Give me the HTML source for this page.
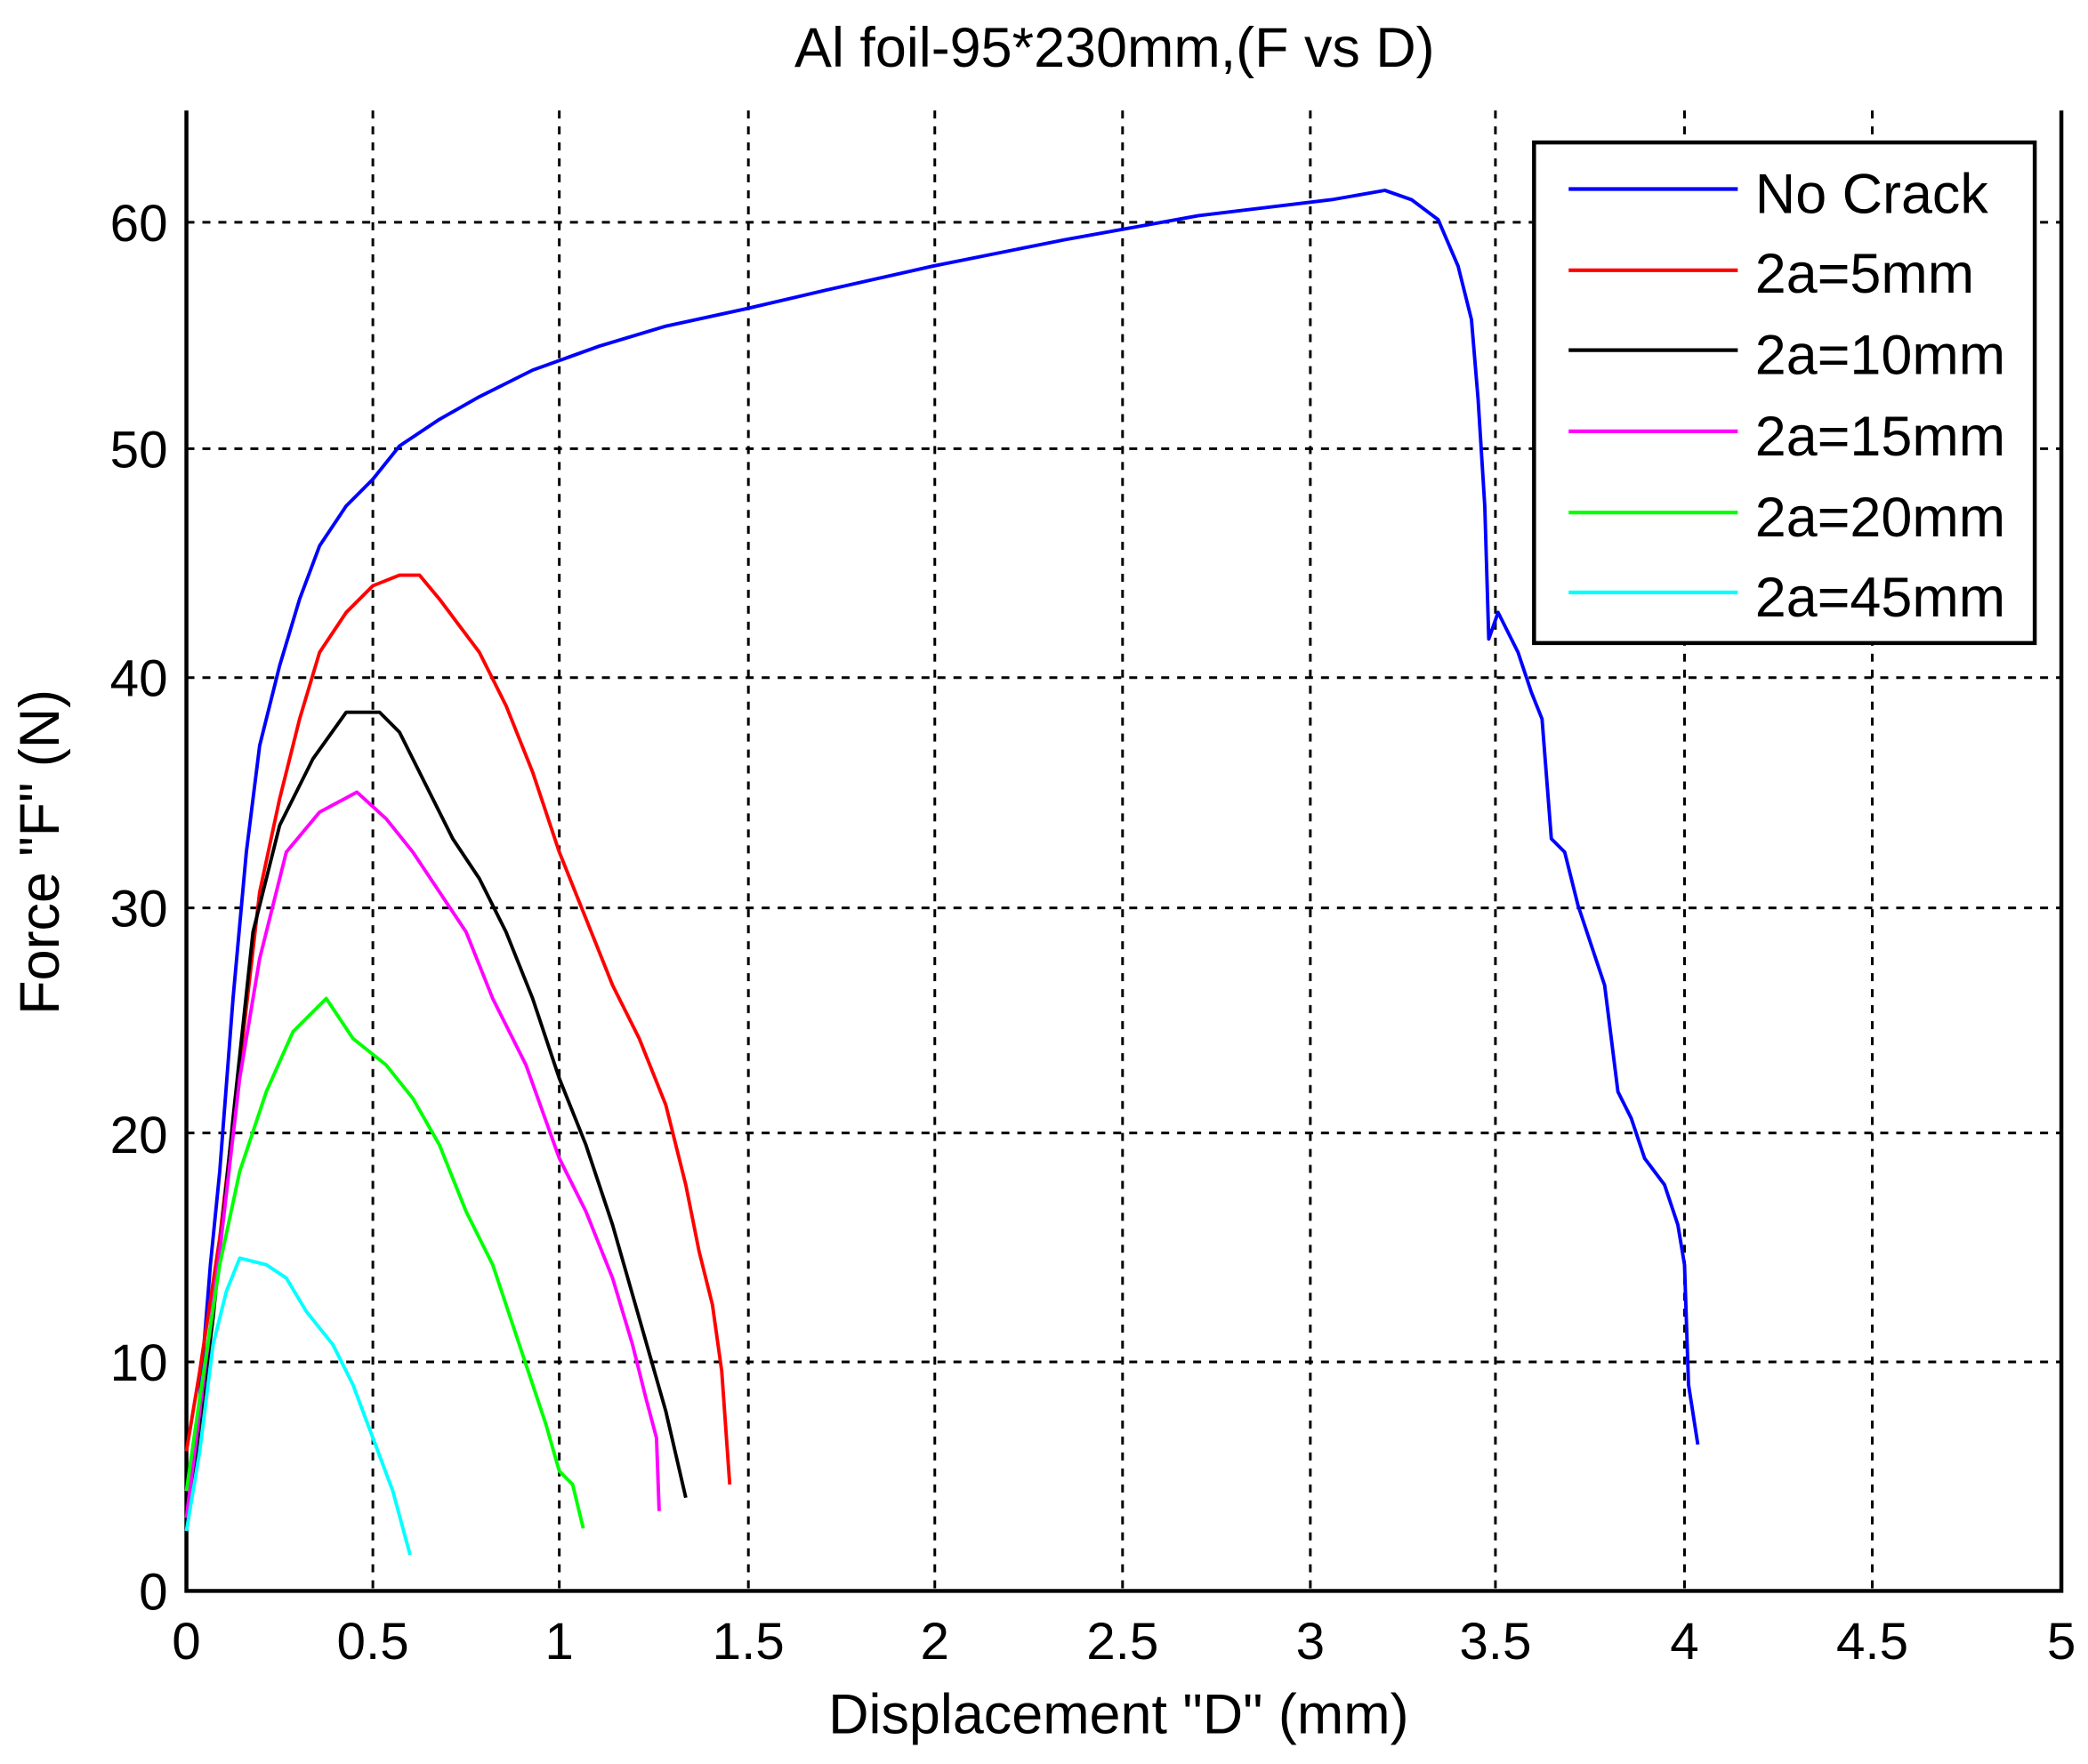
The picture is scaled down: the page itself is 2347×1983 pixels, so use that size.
<!DOCTYPE html>
<html><head><style>html,body{margin:0;padding:0;background:#fff;}svg{display:block;}</style></head>
<body>
<svg width="2347" height="1983" viewBox="0 0 1568 1325" preserveAspectRatio="none" xmlns="http://www.w3.org/2000/svg" font-family="Liberation Sans, sans-serif">
<rect width="1568" height="1325" fill="#fff"/>
<g stroke="#000" stroke-width="2" stroke-dasharray="6,6" fill="none">
<line x1="280" y1="83" x2="280" y2="1195"/><line x1="420" y1="83" x2="420" y2="1195"/>
<line x1="562" y1="83" x2="562" y2="1195"/><line x1="702" y1="83" x2="702" y2="1195"/>
<line x1="843" y1="83" x2="843" y2="1195"/><line x1="984" y1="83" x2="984" y2="1195"/>
<line x1="1123" y1="83" x2="1123" y2="1195"/><line x1="1265" y1="83" x2="1265" y2="1195"/>
<line x1="1406" y1="83" x2="1406" y2="1195"/>
<line x1="140" y1="1023" x2="1548" y2="1023"/><line x1="140" y1="851" x2="1548" y2="851"/>
<line x1="140" y1="682" x2="1548" y2="682"/><line x1="140" y1="509" x2="1548" y2="509"/>
<line x1="140" y1="337" x2="1548" y2="337"/><line x1="140" y1="167" x2="1548" y2="167"/>
</g>
<g stroke="#000" stroke-width="3" fill="none">
<polyline points="140,83 140,1195 1548,1195 1548,83"/>
</g>
<g fill="none" stroke-width="2.6" stroke-linejoin="round">
<polyline stroke="#0000ff" points="140,1150 150,1050 158,950 165,880 175,750 185,640 195,560 210,500 225,450 240,410 260,380 280,360 300,335 330,315 360,298 400,278 450,260 500,245 560,232 620,218 700,200 800,180 900,162 1000,150 1040,143 1060,150 1080,165 1095,200 1105,240 1110,300 1115,380 1118,480 1125,460 1140,490 1150,520 1158,540 1165,630 1175,640 1185,680 1195,710 1205,740 1215,820 1225,840 1235,870 1250,890 1260,920 1265,950 1268,1040 1275,1085"/>
<polyline stroke="#ff0000" points="140,1090 150,1030 165,930 180,800 195,670 210,600 225,540 240,490 260,460 280,440 300,432 315,432 330,450 345,470 360,490 380,530 400,580 420,640 440,690 460,740 480,780 500,830 515,890 525,940 535,980 542,1030 548,1115"/>
<polyline stroke="#000000" points="140,1150 150,1070 160,990 175,840 190,700 210,620 235,570 260,535 285,535 300,550 320,590 340,630 360,660 380,700 400,750 420,810 440,860 460,920 480,990 500,1060 515,1125"/>
<polyline stroke="#ff00ff" points="140,1140 150,1060 165,940 180,810 195,720 215,640 240,610 268,595 290,615 310,640 330,670 350,700 370,750 395,800 420,870 440,910 460,960 475,1010 485,1050 493,1080 495,1135"/>
<polyline stroke="#00ff00" points="140,1120 150,1050 165,950 180,880 200,820 220,775 245,750 265,780 290,800 310,825 330,860 350,910 370,950 390,1010 410,1070 420,1105 430,1115 438,1148"/>
<polyline stroke="#00ffff" points="140,1150 150,1090 160,1010 170,970 180,945 200,950 215,960 230,985 250,1010 265,1040 280,1080 295,1120 308,1168"/>
</g>
<g font-size="39" fill="#000">
<g text-anchor="middle">
<text x="140" y="1246">0</text><text x="280" y="1246">0.5</text><text x="420" y="1246">1</text>
<text x="562" y="1246">1.5</text><text x="702" y="1246">2</text><text x="843" y="1246">2.5</text>
<text x="984" y="1246">3</text><text x="1123" y="1246">3.5</text><text x="1265" y="1246">4</text>
<text x="1406" y="1246">4.5</text><text x="1548" y="1246">5</text>
</g>
<g text-anchor="end">
<text x="126" y="1209">0</text><text x="126" y="1037">10</text><text x="126" y="866">20</text>
<text x="126" y="696">30</text><text x="126" y="523">40</text><text x="126" y="351">50</text><text x="126" y="181">60</text>
</g>
<text x="840" y="1302" text-anchor="middle" font-size="42">Displacement "D" (mm)</text>
<text transform="translate(44,640) rotate(-90)" text-anchor="middle" font-size="42">Force "F" (N)</text>
<text x="837" y="50" text-anchor="middle" font-size="42">Al foil-95*230mm,(F vs D)</text>
</g>
<rect x="1152" y="107" width="376" height="376" fill="#fff" stroke="#000" stroke-width="3"/>
<g stroke-width="2.8">
<line x1="1178" y1="142" x2="1305" y2="142" stroke="#0000ff"/>
<line x1="1178" y1="203" x2="1305" y2="203" stroke="#ff0000"/>
<line x1="1178" y1="263" x2="1305" y2="263" stroke="#000"/>
<line x1="1178" y1="324" x2="1305" y2="324" stroke="#ff00ff"/>
<line x1="1178" y1="385" x2="1305" y2="385" stroke="#00ff00"/>
<line x1="1178" y1="445" x2="1305" y2="445" stroke="#00ffff"/>
</g>
<g font-size="42" fill="#000">
<text x="1318" y="160">No Crack</text><text x="1318" y="220">2a=5mm</text>
<text x="1318" y="281">2a=10mm</text><text x="1318" y="342">2a=15mm</text>
<text x="1318" y="403">2a=20mm</text><text x="1318" y="463">2a=45mm</text>
</g>
</svg>
</body></html>
